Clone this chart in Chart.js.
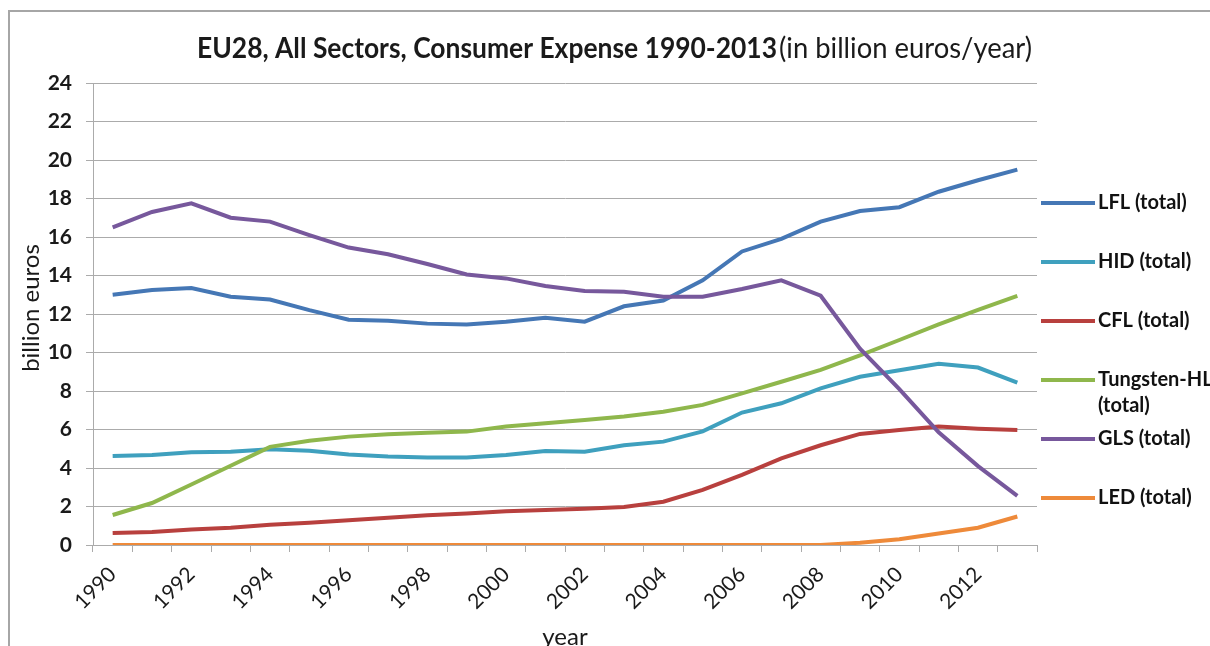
<!DOCTYPE html>
<html>
<head>
<meta charset="utf-8">
<script src="https://cdn.jsdelivr.net/npm/chart.js@4.4.1/dist/chart.umd.min.js"></script>
<style>
    body { margin: 0; background: #fff; }
    #expenseChart { display: block; }
</style>
</head>
<body>
<canvas id="expenseChart" width="1210" height="646"></canvas>
<script>

// years on the category axis
const years = ['1990', '1991', '1992', '1993', '1994', '1995', '1996', '1997', '1998', '1999', '2000', '2001',
               '2002', '2003', '2004', '2005', '2006', '2007', '2008', '2009', '2010', '2011', '2012', '2013'];

// billion euros per year, one array per lamp type
const lfl      = [13.0, 13.25, 13.35, 12.9, 12.75, 12.2, 11.7, 11.65, 11.5, 11.45, 11.6, 11.8,
                  11.6, 12.4, 12.7, 13.75, 15.25, 15.9, 16.8, 17.35, 17.55, 18.35, 18.95, 19.5];
const hid      = [4.62, 4.68, 4.82, 4.85, 4.97, 4.9, 4.7, 4.6, 4.55, 4.55, 4.68, 4.88,
                  4.85, 5.18, 5.37, 5.9, 6.88, 7.36, 8.14, 8.74, 9.08, 9.42, 9.22, 8.43];
const cfl      = [0.62, 0.68, 0.8, 0.9, 1.05, 1.15, 1.28, 1.42, 1.55, 1.63, 1.75, 1.82,
                  1.88, 1.97, 2.25, 2.86, 3.64, 4.5, 5.18, 5.77, 5.97, 6.15, 6.04, 5.97];
const tungsten = [1.56, 2.18, 3.14, 4.12, 5.1, 5.42, 5.63, 5.75, 5.83, 5.89, 6.15, 6.33,
                  6.49, 6.68, 6.92, 7.28, 7.88, 8.48, 9.1, 9.85, 10.65, 11.46, 12.22, 12.94];
const gls      = [16.5, 17.3, 17.75, 17.0, 16.8, 16.1, 15.45, 15.1, 14.6, 14.05, 13.85, 13.45,
                  13.2, 13.15, 12.9, 12.9, 13.3, 13.75, 12.95, 10.2, 8.1, 5.85, 4.1, 2.55];
const led      = [0, 0, 0, 0, 0, 0, 0, 0, 0, 0, 0, 0,
                  0, 0, 0, 0, 0, 0, 0, 0.12, 0.3, 0.6, 0.9, 1.48];

const seriesNames = ['LFL (total)', 'HID (total)', 'CFL (total)', 'Tungsten-HL (total)', 'GLS (total)', 'LED (total)'];
const seriesColors = ['#4577B5', '#3FA0BE', '#B8403E', '#8FB74C', '#77589C', '#EE8A3A'];

const titleMain = 'EU28, All Sectors, Consumer Expense 1990-2013';
const titleSub = '(in billion euros/year)';
const yTitle = 'billion euros';
const xTitle = 'year';

const yMin = 0;
const yMax = 24;
const yStep = 2;

const gridColor = '#ababab';
const fontFamily = 'Lato, "Open Sans", sans-serif';


//---------------------------------
//Start decorations: frame, titles and legend on the right
const decorations = {
    id: 'decorations',
    afterDraw(chart) {
        const ctx = chart.ctx;
        const area = chart.chartArea;
        ctx.save();

        // outer frame (only top and left edges are inside the canvas)
        ctx.strokeStyle = '#a6a6a6';
        ctx.lineWidth = 2;
        ctx.beginPath();
        ctx.moveTo(9, chart.height);
        ctx.lineTo(9, 11);
        ctx.lineTo(chart.width, 11);
        ctx.stroke();

        // title: bold part followed by the unit part
        ctx.fillStyle = '#1a1a1a';
        ctx.textBaseline = 'middle';
        ctx.textAlign = 'left';
        ctx.font = 'bold 29px ' + fontFamily;
        const w1 = ctx.measureText(titleMain).width;
        ctx.save();
        ctx.translate(197, 49);
        ctx.scale(580 / w1, 1);
        ctx.fillText(titleMain, 0, 0);
        ctx.restore();
        ctx.font = '28px ' + fontFamily;
        const w2 = ctx.measureText(titleSub).width;
        ctx.save();
        ctx.translate(779, 49);
        ctx.scale(253 / w2, 1);
        ctx.fillText(titleSub, 0, 0);
        ctx.restore();

        // axis titles
        ctx.font = '24px ' + fontFamily;
        ctx.textAlign = 'center';
        ctx.save();
        ctx.translate(31, 308);
        ctx.rotate(-Math.PI / 2);
        ctx.fillText(yTitle, 0, 0);
        ctx.restore();
        ctx.fillText(xTitle, (area.left + area.right) / 2, 637);

        // legend
        ctx.font = 'bold 20px ' + fontFamily;
        ctx.textAlign = 'left';
        let y = 203;
        chart.data.datasets.forEach((ds) => {
            ctx.strokeStyle = ds.borderColor;
            ctx.lineWidth = 4;
            ctx.beginPath();
            ctx.moveTo(1041, y);
            ctx.lineTo(1095, y);
            ctx.stroke();
            ctx.fillStyle = '#111';
            const words = ds.label.split(' ');
            if (ds.label.length > 12) {
                // long label wraps onto a second line
                ctx.fillText(words[0], 1098, y);
                ctx.fillText(words.slice(1).join(' '), 1098, y + 26);
            } else {
                ctx.fillText(ds.label, 1098, y);
            }
            y += 59;
        });

        ctx.restore();
    }
};
//End decorations
//---------------------------------


const allSeries = [lfl, hid, cfl, tungsten, gls, led];

const ctx = document.getElementById('expenseChart');

var myChart = new Chart(ctx, {
    type: 'line',
    data: {
        labels: years,
        datasets: allSeries.map((values, i) => ({
            label: seriesNames[i],
            data: values,
            borderColor: seriesColors[i],
            backgroundColor: seriesColors[i],
            borderWidth: 4,
            pointRadius: 0,
            tension: 0,
            fill: false,
            order: allSeries.length - i
        }))
    },
    options: {
        responsive: false,
        animation: false,
        layout: {
            padding: { left: 0, top: 83, right: 173, bottom: 0 }
        },
        plugins: {
            legend: { display: false },
            title: { display: false },
            tooltip: { enabled: false }
        },
        scales: {
            x: {
                type: 'category',
                offset: true,
                afterFit: (scale) => { scale.height = 101; },
                grid: {
                    display: true,
                    drawOnChartArea: false,
                    drawTicks: true,
                    tickLength: 7,
                    offset: true,
                    color: gridColor
                },
                border: { color: gridColor, width: 1 },
                ticks: {
                    autoSkip: false,
                    minRotation: 45,
                    maxRotation: 45,
                    padding: 10,
                    color: '#1a1a1a',
                    font: { family: fontFamily, size: 21 },
                    callback: function (value, index) {
                        return index % 2 == 0 ? this.getLabelForValue(value) : '';
                    }
                }
            },
            y: {
                min: yMin,
                max: yMax,
                afterFit: (scale) => { scale.width = 93; },
                grid: {
                    color: gridColor,
                    tickLength: 7
                },
                border: { color: gridColor, width: 1 },
                ticks: {
                    stepSize: yStep,
                    padding: 14,
                    color: '#1a1a1a',
                    font: { family: fontFamily, size: 21, weight: 'bold' }
                }
            }
        }
    },
    plugins: [decorations]
});

</script>
</body>
</html>
